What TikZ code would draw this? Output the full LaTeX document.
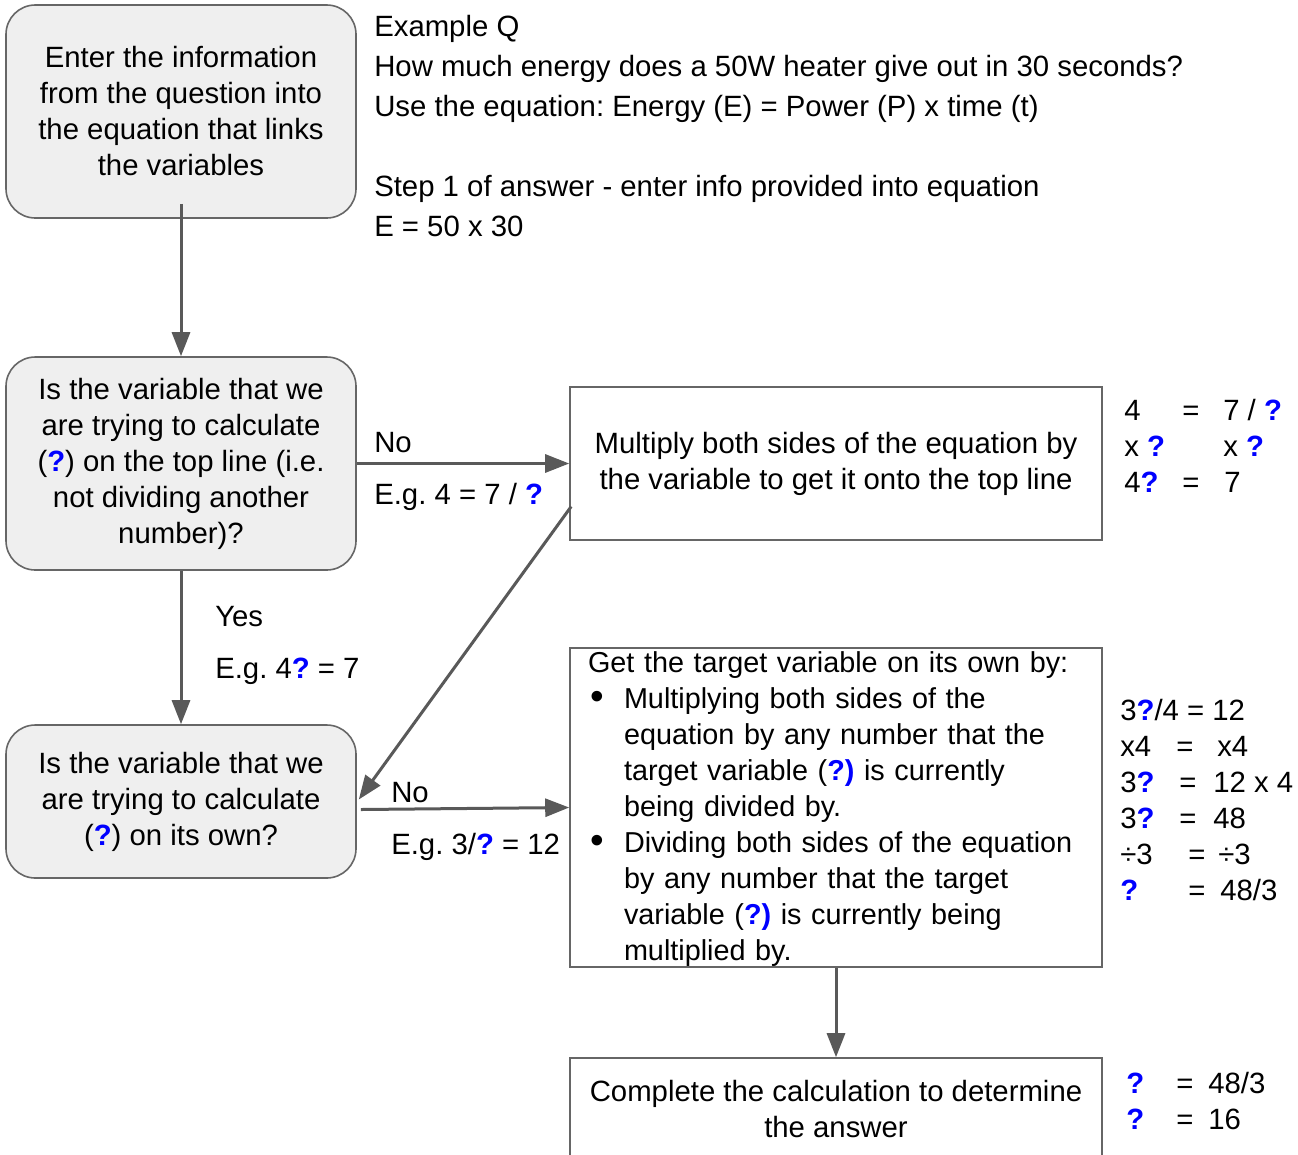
\documentclass[tikz,border=0pt]{standalone}
\usepackage{fontspec}
\usepackage{graphicx}
\setmainfont{Liberation Sans}
\usetikzlibrary{arrows.meta,calc}
\definecolor{qblue}{HTML}{0000FF}
\definecolor{arrowgray}{HTML}{595959}
\definecolor{boxfill}{HTML}{EFEFEF}
\definecolor{boxedge}{HTML}{666666}
\frenchspacing
\newcommand{\qm}{\textcolor{qblue}{\textbf{?}}}
\newcommand{\qmp}{\textcolor{qblue}{\textbf{?)}}}
\newcommand{\bul}{\makebox[27pt][l]{\hspace{2pt}\raisebox{-0.5pt}{\scalebox{1.35}{\textbullet}}}}
\begin{document}
\begin{tikzpicture}[x=0.75pt,y=-0.75pt,
  every node/.style={font=\fontsize{22}{27}\selectfont},
  roundbox/.style={draw=boxedge, line width=1.2pt, fill=boxfill, rounded corners=22pt,
    minimum width=262.5pt, align=center, inner sep=0pt},
  rectbox/.style={draw=boxedge, line width=1.2pt, fill=white, minimum width=399pt, inner sep=0pt},
  arr/.style={draw=arrowgray, line width=2.25pt, -{Triangle[length=18pt,width=13.5pt]}},
  lbl/.style={anchor=base west, inner sep=0pt}
]
\useasboundingbox (0,0) rectangle (1298,1154);
\begin{scope}
\clip (0,0) rectangle (1298,1154);
\fill[white] (0,0) rectangle (1298,1154);

% boxes
\node[roundbox, minimum height=159.75pt] (b1) at (181,111.5)
  {Enter the information\\from the question into\\the equation that links\\the variables};
\node[roundbox, minimum height=159.75pt] (b2) at (181,463.5)
  {Is the variable that we\\are trying to calculate\\(\qm) on the top line (i.e.\\not dividing another\\number)?};
\node[roundbox, minimum height=114.75pt] (b3) at (181,801.5)
  {Is the variable that we\\are trying to calculate\\(\qm) on its own?};
\node[rectbox, minimum height=114.75pt, align=center] (b4) at (836,463.5)
  {Multiply both sides of the equation by\\the variable to get it onto the top line};
\node[rectbox, minimum height=239.25pt, text width=372pt, inner xsep=13.5pt, inner ysep=0pt, align=left,
  font=\fontsize{21.6}{27}\selectfont] (b5) at (836,807.5)
  {\rule{0pt}{18.5pt}Get the target variable on its own by:\\
   \bul Multiplying both sides of the\\
   \hspace*{27pt}equation by any number that the\\
   \hspace*{27pt}target variable (\qmp{} is currently\\
   \hspace*{27pt}being divided by.\\
   \bul Dividing both sides of the equation\\
   \hspace*{27pt}by any number that the target\\
   \hspace*{27pt}variable (\qmp{} is currently being\\
   \hspace*{27pt}multiplied by.};
\node[rectbox, minimum height=76.5pt, align=center] (b6) at (836,1109)
  {Complete the calculation to determine\\the answer};

% connectors
\draw[arr] ($(b1.south)+(0,-15)$) -- (b2.north);
\draw[arr] (b2.east) -- (b4.west);
\draw[arr] (b2.south) -- (b3.north);
\draw[arr] ($(b4.west)+(2,43)$) -- ($(b3.east)+(2,-2)$);
\draw[arr] ($(b3.east)+(4,8)$) -- (b5.west);
\draw[arr] (b5.south) -- (b6.north);

% top text (base anchor = last line)
\node[lbl, align=left, font=\fontsize{22}{30}\selectfont] (info) at (374,236)
  {Example Q\\How much energy does a 50W heater give out in 30 seconds?\\Use the equation: Energy (E) = Power (P) x time (t)\\[30pt]Step 1 of answer - enter info provided into equation\\E = 50 x 30};

% edge labels
\node[lbl] (no1) at (374,452) {No};
\node[lbl] (eg1) at (374,504) {E.g. 4 = 7 / \qm};
\node[lbl] (yes) at (215,626) {Yes};
\node[lbl] (eg2) at (215,678) {E.g. 4\qm{} = 7};
\node[lbl] (no2) at (391,802) {No};
\node[lbl] (eg3) at (391,854) {E.g. 3/\qm{} = 12};

% right column 1
\node[lbl] (r1a) at (1124,420) {4};
\node[lbl] (r1b) at (1182,420) {=};
\node[lbl] (r1c) at (1223,420) {7 / \qm};
\node[lbl] (r2a) at (1124,456) {x \qm};
\node[lbl] (r2c) at (1223,456) {x \qm};
\node[lbl] (r3a) at (1124,492) {4\qm};
\node[lbl] (r3b) at (1182,492) {=};
\node[lbl] (r3c) at (1224,492) {7};

% right column 2
\node[lbl] (s1) at (1120,720) {3\qm/4 = 12};
\node[lbl] (s2a) at (1120,756) {x4};
\node[lbl] (s2b) at (1176,756) {=};
\node[lbl] (s2c) at (1217,756) {x4};
\node[lbl] (s3a) at (1120,792) {3\qm};
\node[lbl] (s3b) at (1179,792) {=};
\node[lbl] (s3c) at (1213,792) {12 x 4};
\node[lbl] (s4a) at (1120,828) {3\qm};
\node[lbl] (s4b) at (1179,828) {=};
\node[lbl] (s4c) at (1213,828) {48};
\node[lbl] (s5a) at (1120,864) {÷3};
\node[lbl] (s5b) at (1188,864) {=};
\node[lbl] (s5c) at (1218,864) {÷3};
\node[lbl] (s6a) at (1120,900) {\qm};
\node[lbl] (s6b) at (1188,900) {=};
\node[lbl] (s6c) at (1220,900) {48/3};

% right column 3
\node[lbl] (t1a) at (1126,1093) {\qm};
\node[lbl] (t1b) at (1176,1093) {=};
\node[lbl] (t1c) at (1208,1093) {48/3};
\node[lbl] (t2a) at (1126,1129) {\qm};
\node[lbl] (t2b) at (1176,1129) {=};
\node[lbl] (t2c) at (1208,1129) {16};
\end{scope}
\end{tikzpicture}
\end{document}
